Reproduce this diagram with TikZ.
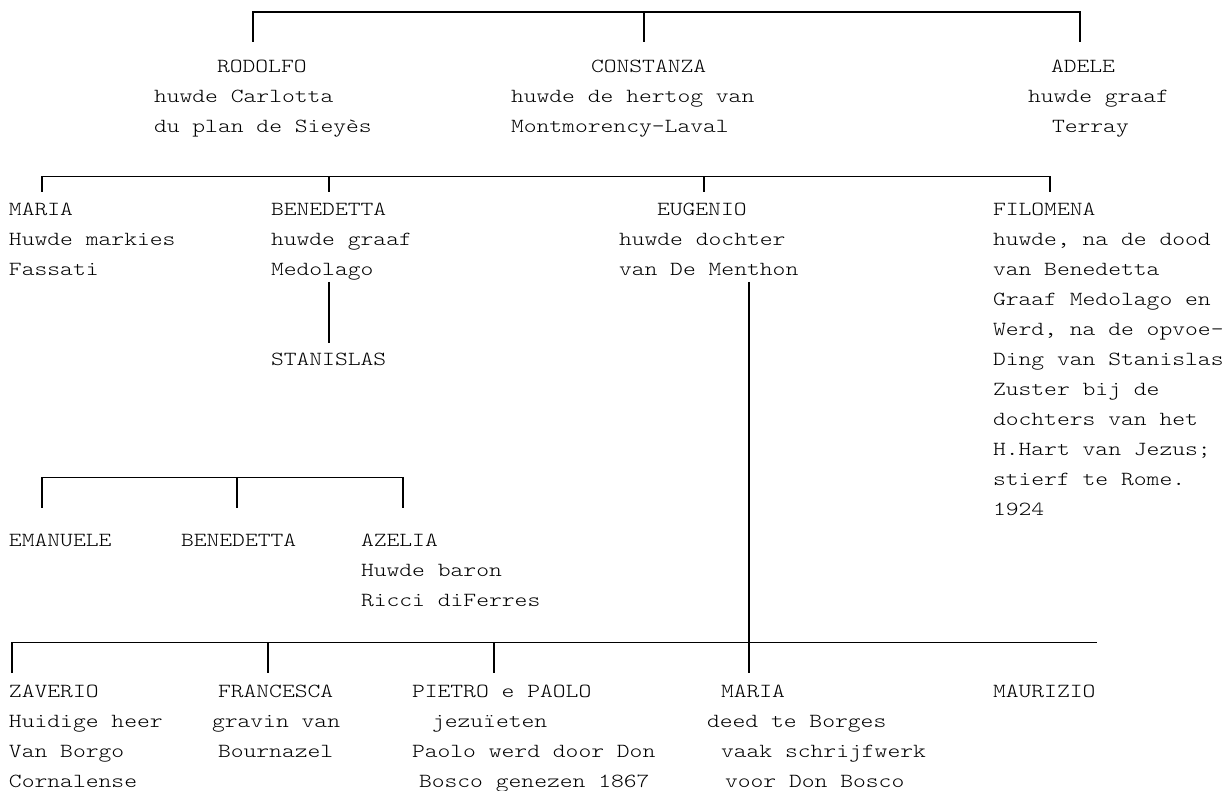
\documentclass[tikz,border=0pt]{standalone}
\usepackage{fontspec}
\newfontfamily\cour{lmmonolt10-regular.otf}[FakeStretch=1.22]
\begin{document}
\begin{tikzpicture}[x=1pt,y=-1pt,
  lbl/.style={anchor=base west,inner sep=0pt,outer sep=0pt,font=\cour\fontsize{20}{30}\selectfont,text=black},
  conn/.style={draw=black,line width=1.5pt}]
\useasboundingbox[fill=white] (0,0) rectangle (1227,791);
% ---- generation 1
\node[lbl] (rodolfo)   at (217,72.7)  {RODOLFO};
\node[lbl] (rodolfo2)  at (154,102.7) {huwde Carlotta};
\node[lbl] (rodolfo3)  at (154,132.7) {du plan de Sieyès};
\node[lbl] (constanza) at (591,72.7)  {CONSTANZA};
\node[lbl] (constanza2) at (511,102.7) {huwde de hertog van};
\node[lbl] (constanza3) at (511,132.7) {Montmorency—Laval};
\node[lbl] (adele)     at (1051,72.7) {ADELE};
\node[lbl] (adele2)    at (1028,102.7) {huwde graaf};
\node[lbl] (adele3)    at (1052,132.7) {Terray};
% ---- generation 2
\node[lbl] (maria)  at (9,215.3) {MARIA};
\node[lbl] (maria2) at (9,245.3) {Huwde markies};
\node[lbl] (maria3) at (9,275.3) {Fassati};
\node[lbl] (bene)   at (271,215.3) {BENEDETTA};
\node[lbl] (bene2)  at (271,245.3) {huwde graaf};
\node[lbl] (bene3)  at (271,275.3) {Medolago};
\node[lbl] (stanislas) at (271,366) {STANISLAS};
\node[lbl] (eugenio)  at (657,215.3) {EUGENIO};
\node[lbl] (eugenio2) at (619,245.3) {huwde dochter};
\node[lbl] (eugenio3) at (619,275.3) {van De Menthon};
\node[lbl] (filo)   at (993,215.3) {FILOMENA};
\node[lbl] (filo2)  at (993,245.3) {huwde, na de dood};
\node[lbl] (filo3)  at (993,275.3) {van Benedetta};
\node[lbl] (filo4)  at (993,305.3) {Graaf Medolago en};
\node[lbl] (filo5)  at (993,335.3) {Werd, na de opvoe-};
\node[lbl] (filo6)  at (993,365.3) {Ding van Stanislas};
\node[lbl] (filo7)  at (993,395.3) {Zuster bij de};
\node[lbl] (filo8)  at (993,425.3) {dochters van het};
\node[lbl] (filo9)  at (993,455.3) {H.Hart van Jezus;};
\node[lbl] (filo10) at (993,485.3) {stierf te Rome.};
\node[lbl] (filo11) at (993,515.3) {1924};
% ---- children of Maria
\node[lbl] (emanuele) at (9,546)   {EMANUELE};
\node[lbl] (bene4)    at (181,546) {BENEDETTA};
\node[lbl] (azelia)   at (361,546) {AZELIA};
\node[lbl] (azelia2)  at (361,576) {Huwde baron};
\node[lbl] (azelia3)  at (361,606) {Ricci diFerres};
% ---- children of Eugenio
\node[lbl] (zaverio)  at (9,697.3) {ZAVERIO};
\node[lbl] (zaverio2) at (9,727.3) {Huidige heer};
\node[lbl] (zaverio3) at (9,757.3) {Van Borgo};
\node[lbl] (zaverio4) at (9,787.3) {Cornalense};
\node[lbl] (francesca)  at (218,697.3) {FRANCESCA};
\node[lbl] (francesca2) at (212,727.3) {gravin van};
\node[lbl] (francesca3) at (218,757.3) {Bournazel};
\node[lbl] (pietro)  at (412,697.3) {PIETRO e PAOLO};
\node[lbl] (pietro2) at (432,727.3) {jezuïeten};
\node[lbl] (pietro3) at (412,757.3) {Paolo werd door Don};
\node[lbl] (pietro4) at (419,787.3) {Bosco genezen 1867};
\node[lbl] (maria5)  at (721,697.3) {MARIA};
\node[lbl] (maria6)  at (707,727.3) {deed te Borges};
\node[lbl] (maria7)  at (721,757.3) {vaak schrijfwerk};
\node[lbl] (maria8)  at (725,787.3) {voor Don Bosco};
\node[lbl] (maurizio) at (993,697.3) {MAURIZIO};
% ---- connector coordinates
\coordinate (a1) at (253,42);  \coordinate (a1t) at (253,12);
\coordinate (a2) at (644,42);  \coordinate (a2t) at (644,12);
\coordinate (a3) at (1080,42); \coordinate (a3t) at (1080,12);
\coordinate (c1) at (42,192);   \coordinate (c1t) at (42,176.5);
\coordinate (c2) at (329,192);  \coordinate (c2t) at (329,176.5);
\coordinate (c3) at (704,192);  \coordinate (c3t) at (704,176.5);
\coordinate (c4) at (1050,192); \coordinate (c4t) at (1050,176.5);
\coordinate (m1) at (329,282);  \coordinate (m2) at (329,343);
\coordinate (d1) at (42,508);  \coordinate (d1t) at (42,477.5);
\coordinate (d2) at (237,508); \coordinate (d2t) at (237,477.5);
\coordinate (d3) at (403,508); \coordinate (d3t) at (403,477.5);
\coordinate (e0) at (749,282);
\coordinate (f1) at (12,673);  \coordinate (f1t) at (12,642.5);
\coordinate (f2) at (268,673); \coordinate (f2t) at (268,642.5);
\coordinate (f3) at (494,673); \coordinate (f3t) at (494,642.5);
\coordinate (f4) at (749,673);
\coordinate (f5) at (1097,642.5);
% ---- connectors
\draw[conn] (a1) -- (a1t) -- (a3t) -- (a3);
\draw[conn] (a2t) -- (a2);
\draw[conn] (c1) -- (c1t) -- (c4t) -- (c4);
\draw[conn] (c2t) -- (c2);
\draw[conn] (c3t) -- (c3);
\draw[conn] (m1) -- (m2);
\draw[conn] (d1) -- (d1t) -- (d3t) -- (d3);
\draw[conn] (d2t) -- (d2);
\draw[conn] (e0) -- (f4);
\draw[conn] (f1) -- (f1t) -- (f5);
\draw[conn] (f2t) -- (f2);
\draw[conn] (f3t) -- (f3);
\end{tikzpicture}
\end{document}
